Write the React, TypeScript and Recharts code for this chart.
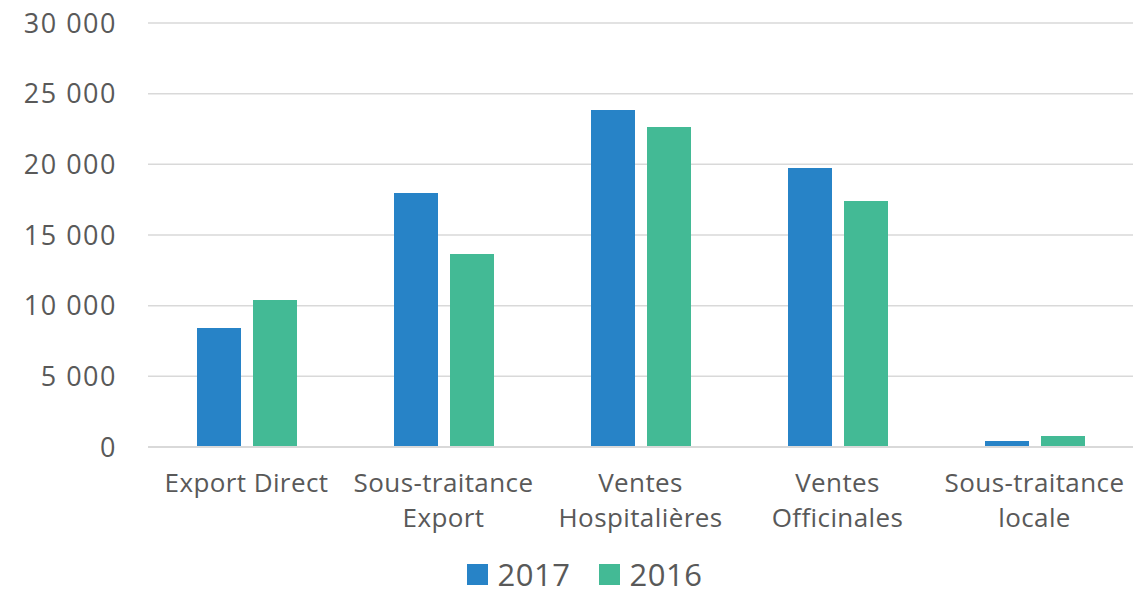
import React from "react";
import { BarChart, Bar, XAxis, YAxis, CartesianGrid, Legend } from "recharts";

const categories = ["Export Direct", "Sous-traitance Export", "Ventes Hospitalières", "Ventes Officinales", "Sous-traitance locale"];
const categoryLines = [["Export Direct"], ["Sous-traitance", "Export"], ["Ventes", "Hospitalières"], ["Ventes", "Officinales"], ["Sous-traitance", "locale"]];
const values2017 = [8420, 17970, 23840, 19740, 430];
const values2016 = [10400, 13660, 22640, 17410, 780];
const yTicks = [0, 5000, 10000, 15000, 20000, 25000, 30000];
const seriesNames = ["2017", "2016"];

const data = categories.map((c, i) => ({ name: c, lines: categoryLines[i], v2017: values2017[i], v2016: values2016[i] }));

const FONT = "'Open Sans', sans-serif";
const TEXT = "#595959";
const BLUE = "#2783C7";
const GREEN = "#43BA95";

const fmt = (v: number) => {
  const s = String(v);
  return s.length > 3 ? s.slice(0, s.length - 3) + " " + s.slice(s.length - 3) : s;
};

const XTick = (props: any) => {
  const { x, y, payload, index } = props;
  const lines = categoryLines[index] ?? [payload.value];
  return (
    <g transform={`translate(${x},${y})`}>
      {lines.map((l: string, i: number) => (
        <text key={i} x={0} y={37 + i * 35} textAnchor="middle" fill={TEXT} fontSize={26} letterSpacing={0.4} fontFamily={FONT}>
          {l}
        </text>
      ))}
    </g>
  );
};

const LegendContent = () => (
  <div style={{ display: "flex", justifyContent: "center", alignItems: "center", height: 40, lineHeight: "40px", fontFamily: FONT, color: TEXT, fontSize: 31, letterSpacing: 0.5, paddingLeft: 36 }}>
    <span style={{ display: "inline-block", width: 21, height: 21, background: BLUE, marginRight: 10 }} />
    <span style={{ marginRight: 28 }}>{seriesNames[0]}</span>
    <span style={{ display: "inline-block", width: 21, height: 21, background: GREEN, marginRight: 10 }} />
    <span>{seriesNames[1]}</span>
  </div>
);

export default function App() {
  return (
    <div style={{ position: "absolute", left: 0, top: 0, background: "#fff" }}>
      <BarChart width={1133} height={594} data={data} margin={{ top: 23, right: 0, left: 0, bottom: 0 }} barSize={44} barGap={12}>
        <CartesianGrid vertical={false} stroke="#d9d9d9" strokeWidth={1.5} />
        <XAxis dataKey="name" tick={<XTick />} tickLine={false} axisLine={{ stroke: "#d9d9d9", strokeWidth: 2 }} height={107} interval={0} />
        <YAxis
          domain={[0, 30000]}
          ticks={yTicks}
          tickFormatter={fmt}
          tickLine={false}
          axisLine={false}
          tickSize={0}
          tickMargin={31}
          width={148}
          tick={{ fill: TEXT, fontSize: 27, fontFamily: FONT, letterSpacing: 1.5 }}
        />
        <Legend verticalAlign="bottom" height={40} content={<LegendContent />} />
        <Bar dataKey="v2017" name={seriesNames[0]} fill={BLUE} isAnimationActive={false} />
        <Bar dataKey="v2016" name={seriesNames[1]} fill={GREEN} isAnimationActive={false} />
      </BarChart>
    </div>
  );
}
